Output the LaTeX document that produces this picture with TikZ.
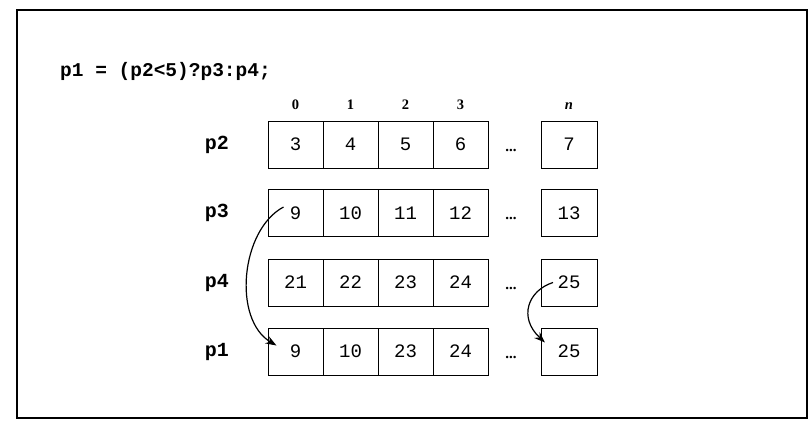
\documentclass[tikz,border=0pt]{standalone}
\usepackage{fontspec}
\setmainfont{Liberation Serif}
\setmonofont{Liberation Mono}
\usetikzlibrary{arrows.meta,calc}
\tikzset{
  cell/.style={draw, line width=1pt, minimum width=55pt, minimum height=47pt, inner sep=0pt, font=\fontsize{19}{19}\selectfont\ttfamily},
  ncell/.style={cell, minimum width=56pt},
  rowlab/.style={font=\fontsize{20}{20}\selectfont\ttfamily\bfseries},
  idx/.style={font=\fontsize{14.5}{14.5}\selectfont\bfseries, anchor=base},
  dots/.style={font=\fontsize{15}{15}\selectfont\bfseries, anchor=base, inner sep=0pt},
  movearrow/.style={line width=1.2pt, -{Stealth[length=11pt,width=8pt]}}
}
\begin{document}
\begin{tikzpicture}[x=1pt,y=-1pt]
\useasboundingbox (0,0) rectangle (812,432);
\draw[line width=1.5pt] (17,10) rectangle (807,418);
\node[anchor=base west, inner sep=0pt, font=\fontsize{19.5}{19.5}\selectfont\ttfamily\bfseries] (code) at (60,76) {p1 = (p2<5)?p3:p4;};
% index labels
\node[idx] (i0) at (295.5,109) {0};
\node[idx] (i1) at (350.5,109) {1};
\node[idx] (i2) at (405.5,109) {2};
\node[idx] (i3) at (460.5,109) {3};
\node[idx] (in) at (569,109) {\itshape n};
% rows
\foreach \r/\y/\a/\b/\c/\d/\e in {p2/144.5/3/4/5/6/7, p3/213/9/10/11/12/13, p4/282.5/21/22/23/24/25, p1/351.5/9/10/23/24/25}{
  \node[rowlab] (\r lab) at (217,\y) {\r};
  \node[cell] (\r c0) at (295.5,\y) {\a};
  \node[cell] (\r c1) at (350.5,\y) {\b};
  \node[cell] (\r c2) at (405.5,\y) {\c};
  \node[cell] (\r c3) at (460.5,\y) {\d};
  \node[dots] (\r dots) at (511,\y+6.5) {...};
  \node[ncell] (\r cn) at (569,\y) {\e};
}
% arrows
\coordinate (a1s) at ($(p3c0.center)+(-12,-6)$);
\coordinate (a1e) at ($(p1c0.center)+(-19,-6)$);
\draw[movearrow] (a1s) .. controls ($(a1s)+(-43,23)$) and ($(a1e)+(-44,-26)$) .. (a1e);
\coordinate (a2s) at ($(p4cn.center)+(-16,0)$);
\coordinate (a2e) at ($(p1cn.center)+(-24,-9)$);
\draw[movearrow] (a2s) .. controls ($(a2s)+(-25,8)$) and ($(a2e)+(-27,-25)$) .. (a2e);
\end{tikzpicture}
\end{document}
